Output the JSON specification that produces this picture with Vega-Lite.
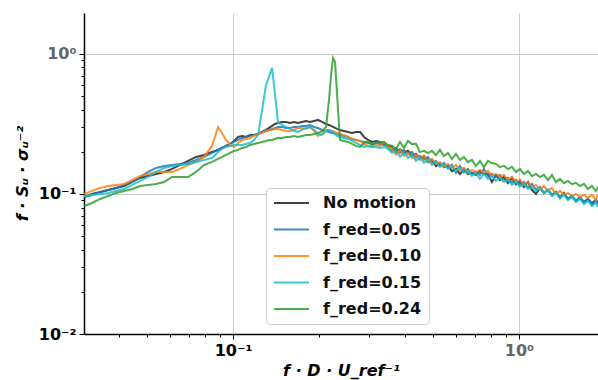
{
"$schema": "https://vega.github.io/schema/vega-lite/v6.json",
"width": 514, "height": 321,
"autosize": {"type": "none"},
"padding": {"left": 84, "top": 13, "right": 0, "bottom": 46},
"background": "white",
"config": {"view": {"stroke": null}, "font": "DejaVu Sans"},
"data": {"values": [
{"f":0.0301,"nm":0.0952,"r05":0.0952,"r10":0.1000,"r15":0.0968,"r24":0.0821},
{"f":0.0321,"nm":0.1000,"r05":0.0984,"r10":0.1051,"r15":0.0984,"r24":0.0862},
{"f":0.0343,"nm":0.1034,"r05":0.1034,"r10":0.1104,"r15":0.1000,"r24":0.0921},
{"f":0.0366,"nm":0.1068,"r05":0.1068,"r10":0.1141,"r15":0.1017,"r24":0.0968},
{"f":0.0390,"nm":0.1104,"r05":0.1104,"r10":0.1160,"r15":0.1051,"r24":0.1017},
{"f":0.0416,"nm":0.1141,"r05":0.1160,"r10":0.1179,"r15":0.1086,"r24":0.1051},
{"f":0.0444,"nm":0.1218,"r05":0.1218,"r10":0.1259,"r15":0.1160,"r24":0.1086},
{"f":0.0473,"nm":0.1301,"r05":0.1322,"r10":0.1344,"r15":0.1238,"r24":0.1141},
{"f":0.0504,"nm":0.1344,"r05":0.1436,"r10":0.1389,"r15":0.1322,"r24":0.1160},
{"f":0.0538,"nm":0.1389,"r05":0.1534,"r10":0.1436,"r15":0.1436,"r24":0.1179},
{"f":0.0574,"nm":0.1436,"r05":0.1585,"r10":0.1436,"r15":0.1534,"r24":0.1218},
{"f":0.0612,"nm":0.1509,"r05":0.1611,"r10":0.1436,"r15":0.1585,"r24":0.1322},
{"f":0.0653,"nm":0.1611,"r05":0.1638,"r10":0.1509,"r15":0.1611,"r24":0.1322},
{"f":0.0696,"nm":0.1721,"r05":0.1665,"r10":0.1611,"r15":0.1638,"r24":0.1322},
{"f":0.0742,"nm":0.1838,"r05":0.1749,"r10":0.1693,"r15":0.1693,"r24":0.1436},
{"f":0.0792,"nm":0.1899,"r05":0.1838,"r10":0.1838,"r15":0.1749,"r24":0.1611},
{"f":0.0844,"nm":0.1995,"r05":0.1963,"r10":0.2202,"r15":0.1808,"r24":0.1693},
{"f":0.0886,"nm":0.2062,"r05":0.2062,"r10":0.3010,"r15":0.1995,"r24":0.1778},
{"f":0.0915,"nm":0.2131,"r05":0.2131,"r10":0.2727,"r15":0.2096,"r24":0.1838},
{"f":0.0945,"nm":0.2202,"r05":0.2202,"r10":0.2430,"r15":0.2166,"r24":0.1899},
{"f":0.0976,"nm":0.2276,"r05":0.2276,"r10":0.2239,"r15":0.2202,"r24":0.1963},
{"f":0.1008,"nm":0.2391,"r05":0.2352,"r10":0.2166,"r15":0.2239,"r24":0.2028},
{"f":0.1041,"nm":0.2553,"r05":0.2430,"r10":0.2313,"r15":0.2239,"r24":0.2062},
{"f":0.1075,"nm":0.2596,"r05":0.2512,"r10":0.2430,"r15":0.2239,"r24":0.2131},
{"f":0.1110,"nm":0.2553,"r05":0.2553,"r10":0.2471,"r15":0.2276,"r24":0.2166},
{"f":0.1147,"nm":0.2639,"r05":0.2596,"r10":0.2512,"r15":0.2313,"r24":0.2239},
{"f":0.1184,"nm":0.2639,"r05":0.2639,"r10":0.2596,"r15":0.2430,"r24":0.2276},
{"f":0.1223,"nm":0.2683,"r05":0.2683,"r10":0.2683,"r15":0.2639,"r24":0.2313},
{"f":0.1263,"nm":0.2772,"r05":0.2772,"r10":0.2727,"r15":0.3981,"r24":0.2352},
{"f":0.1304,"nm":0.2865,"r05":0.2818,"r10":0.2818,"r15":0.6006,"r24":0.2391},
{"f":0.1336,"nm":0.2961,"r05":0.2865,"r10":0.2865,"r15":0.6851,"r24":0.2430},
{"f":0.1369,"nm":0.3060,"r05":0.2913,"r10":0.2865,"r15":0.7943,"r24":0.2430},
{"f":0.1402,"nm":0.3162,"r05":0.2961,"r10":0.2913,"r15":0.5095,"r24":0.2471},
{"f":0.1437,"nm":0.3214,"r05":0.3010,"r10":0.2913,"r15":0.3214,"r24":0.2512},
{"f":0.1484,"nm":0.3268,"r05":0.3010,"r10":0.2865,"r15":0.3111,"r24":0.2512},
{"f":0.1532,"nm":0.3268,"r05":0.2961,"r10":0.2818,"r15":0.3010,"r24":0.2553},
{"f":0.1582,"nm":0.3214,"r05":0.2961,"r10":0.2818,"r15":0.2913,"r24":0.2553},
{"f":0.1634,"nm":0.3268,"r05":0.3010,"r10":0.2865,"r15":0.2818,"r24":0.2596},
{"f":0.1688,"nm":0.3214,"r05":0.3010,"r10":0.2961,"r15":0.2772,"r24":0.2553},
{"f":0.1743,"nm":0.3268,"r05":0.3060,"r10":0.2961,"r15":0.2865,"r24":0.2596},
{"f":0.1800,"nm":0.3321,"r05":0.3060,"r10":0.2913,"r15":0.2961,"r24":0.2639},
{"f":0.1859,"nm":0.3268,"r05":0.3111,"r10":0.3010,"r15":0.3010,"r24":0.2639},
{"f":0.1919,"nm":0.3321,"r05":0.3010,"r10":0.2818,"r15":0.2865,"r24":0.2683},
{"f":0.1982,"nm":0.3378,"r05":0.2961,"r10":0.2596,"r15":0.2683,"r24":0.2727},
{"f":0.2047,"nm":0.3268,"r05":0.2865,"r10":0.2683,"r15":0.2639,"r24":0.2818},
{"f":0.2114,"nm":0.3162,"r05":0.2818,"r10":0.2865,"r15":0.2818,"r24":0.3010},
{"f":0.2166,"nm":0.3111,"r05":0.2772,"r10":0.2865,"r15":0.2865,"r24":0.4692},
{"f":0.2202,"nm":0.3060,"r05":0.2727,"r10":0.2818,"r15":0.2818,"r24":0.7079},
{"f":0.2238,"nm":0.3010,"r05":0.2727,"r10":0.2818,"r15":0.2772,"r24":0.9363},
{"f":0.2274,"nm":0.2961,"r05":0.2683,"r10":0.2772,"r15":0.2683,"r24":0.8770},
{"f":0.2311,"nm":0.2913,"r05":0.2683,"r10":0.2727,"r15":0.2596,"r24":0.5095},
{"f":0.2366,"nm":0.2865,"r05":0.2639,"r10":0.2683,"r15":0.2553,"r24":0.2430},
{"f":0.2444,"nm":0.2818,"r05":0.2596,"r10":0.2639,"r15":0.2512,"r24":0.2391},
{"f":0.2524,"nm":0.2772,"r05":0.2553,"r10":0.2553,"r15":0.2471,"r24":0.2352},
{"f":0.2607,"nm":0.2727,"r05":0.2471,"r10":0.2471,"r15":0.2391,"r24":0.2276},
{"f":0.2692,"nm":0.2772,"r05":0.2430,"r10":0.2430,"r15":0.2313,"r24":0.2202},
{"f":0.2780,"nm":0.2772,"r05":0.2391,"r10":0.2391,"r15":0.2239,"r24":0.2166},
{"f":0.2871,"nm":0.2553,"r05":0.2352,"r10":0.2276,"r15":0.2166,"r24":0.2313},
{"f":0.2965,"nm":0.2430,"r05":0.2313,"r10":0.2202,"r15":0.2202,"r24":0.2391},
{"f":0.3062,"nm":0.2352,"r05":0.2276,"r10":0.2166,"r15":0.2166,"r24":0.2239},
{"f":0.3162,"nm":0.2391,"r05":0.2313,"r10":0.2239,"r15":0.2166,"r24":0.2313},
{"f":0.3266,"nm":0.2352,"r05":0.2276,"r10":0.2202,"r15":0.2131,"r24":0.2352},
{"f":0.3373,"nm":0.2276,"r05":0.2239,"r10":0.2352,"r15":0.2166,"r24":0.2352},
{"f":0.3483,"nm":0.2202,"r05":0.2166,"r10":0.2166,"r15":0.2096,"r24":0.2239},
{"f":0.3597,"nm":0.2180,"r05":0.2033,"r10":0.2124,"r15":0.1967,"r24":0.2216},
{"f":0.3715,"nm":0.1990,"r05":0.2134,"r10":0.1904,"r15":0.2031,"r24":0.2090},
{"f":0.3836,"nm":0.2088,"r05":0.1967,"r10":0.2065,"r15":0.1842,"r24":0.2356},
{"f":0.3962,"nm":0.1957,"r05":0.2065,"r10":0.1873,"r15":0.1965,"r24":0.2136},
{"f":0.4091,"nm":0.2031,"r05":0.1925,"r10":0.1965,"r15":0.1812,"r24":0.2394},
{"f":0.4225,"nm":0.1873,"r05":0.1999,"r10":0.1812,"r15":0.1902,"r24":0.2270},
{"f":0.4363,"nm":0.1933,"r05":0.1812,"r10":0.1902,"r15":0.1725,"r24":0.2279},
{"f":0.4506,"nm":0.1774,"r05":0.1871,"r10":0.1754,"r15":0.1810,"r24":0.1990},
{"f":0.4653,"nm":0.1871,"r05":0.1754,"r10":0.1871,"r15":0.1669,"r24":0.2032},
{"f":0.4806,"nm":0.1688,"r05":0.1840,"r10":0.1697,"r15":0.1752,"r24":0.1957},
{"f":0.4963,"nm":0.1752,"r05":0.1669,"r10":0.1781,"r15":0.1615,"r24":0.2032},
{"f":0.5125,"nm":0.1581,"r05":0.1723,"r10":0.1642,"r15":0.1695,"r24":0.1894},
{"f":0.5293,"nm":0.1640,"r05":0.1589,"r10":0.1695,"r15":0.1563,"r24":0.2065},
{"f":0.5466,"nm":0.1555,"r05":0.1667,"r10":0.1563,"r15":0.1640,"r24":0.1863},
{"f":0.5645,"nm":0.1588,"r05":0.1537,"r10":0.1640,"r15":0.1512,"r24":0.1965},
{"f":0.5829,"nm":0.1456,"r05":0.1614,"r10":0.1537,"r15":0.1588,"r24":0.1774},
{"f":0.6020,"nm":0.1511,"r05":0.1416,"r10":0.1614,"r15":0.1464,"r24":0.1933},
{"f":0.6217,"nm":0.1386,"r05":0.1588,"r10":0.1464,"r15":0.1536,"r24":0.1745},
{"f":0.6420,"nm":0.1511,"r05":0.1439,"r10":0.1536,"r15":0.1416,"r24":0.1840},
{"f":0.6630,"nm":0.1386,"r05":0.1511,"r10":0.1416,"r15":0.1462,"r24":0.1688},
{"f":0.6847,"nm":0.1415,"r05":0.1393,"r10":0.1486,"r15":0.1347,"r24":0.1752},
{"f":0.7071,"nm":0.1364,"r05":0.1438,"r10":0.1432,"r15":0.1415,"r24":0.1581},
{"f":0.7302,"nm":0.1462,"r05":0.1371,"r10":0.1486,"r15":0.1282,"r24":0.1723},
{"f":0.7541,"nm":0.1386,"r05":0.1511,"r10":0.1416,"r15":0.1391,"r24":0.1555},
{"f":0.7788,"nm":0.1391,"r05":0.1347,"r10":0.1462,"r15":0.1282,"r24":0.1723},
{"f":0.8043,"nm":0.1215,"r05":0.1391,"r10":0.1347,"r15":0.1347,"r24":0.1661},
{"f":0.8306,"nm":0.1368,"r05":0.1326,"r10":0.1391,"r15":0.1242,"r24":0.1640},
{"f":0.8578,"nm":0.1256,"r05":0.1368,"r10":0.1326,"r15":0.1303,"r24":0.1555},
{"f":0.8858,"nm":0.1325,"r05":0.1242,"r10":0.1368,"r15":0.1221,"r24":0.1588},
{"f":0.9152,"nm":0.1195,"r05":0.1303,"r10":0.1262,"r15":0.1261,"r24":0.1505},
{"f":0.9452,"nm":0.1303,"r05":0.1201,"r10":0.1325,"r15":0.1162,"r24":0.1562},
{"f":0.9761,"nm":0.1175,"r05":0.1261,"r10":0.1221,"r15":0.1220,"r24":0.1432},
{"f":1.0081,"nm":0.1240,"r05":0.1162,"r10":0.1261,"r15":0.1125,"r24":0.1511},
{"f":1.0411,"nm":0.1119,"r05":0.1220,"r10":0.1162,"r15":0.1181,"r24":0.1386},
{"f":1.0752,"nm":0.1220,"r05":0.1107,"r10":0.1220,"r15":0.1088,"r24":0.1462},
{"f":1.1104,"nm":0.1066,"r05":0.1181,"r10":0.1125,"r15":0.1124,"r24":0.1340},
{"f":1.1467,"nm":0.1000,"r05":0.1071,"r10":0.1161,"r15":0.1053,"r24":0.1391},
{"f":1.1842,"nm":0.1105,"r05":0.1124,"r10":0.1071,"r15":0.1105,"r24":0.1319},
{"f":1.2230,"nm":0.1014,"r05":0.1020,"r10":0.1143,"r15":0.1014,"r24":0.1368},
{"f":1.2630,"nm":0.1070,"r05":0.1070,"r10":0.1053,"r15":0.1070,"r24":0.1256},
{"f":1.3043,"nm":0.0981,"r05":0.0986,"r10":0.1105,"r15":0.0965,"r24":0.1368},
{"f":1.3470,"nm":0.1035,"r05":0.1035,"r10":0.1003,"r15":0.1018,"r24":0.1215},
{"f":1.3911,"nm":0.0934,"r05":0.0954,"r10":0.1053,"r15":0.0934,"r24":0.1281},
{"f":1.4366,"nm":0.1018,"r05":0.1002,"r10":0.0986,"r15":0.0985,"r24":0.1195},
{"f":1.4836,"nm":0.0919,"r05":0.0923,"r10":0.1018,"r15":0.0903,"r24":0.1240},
{"f":1.5322,"nm":0.0969,"r05":0.0969,"r10":0.0970,"r15":0.0953,"r24":0.1175},
{"f":1.5823,"nm":0.0889,"r05":0.0893,"r10":0.1002,"r15":0.0874,"r24":0.1201},
{"f":1.6341,"nm":0.0938,"r05":0.0953,"r10":0.0954,"r15":0.0922,"r24":0.1138},
{"f":1.6876,"nm":0.0874,"r05":0.0879,"r10":0.0985,"r15":0.0846,"r24":0.1181},
{"f":1.7428,"nm":0.0922,"r05":0.0922,"r10":0.0939,"r15":0.0892,"r24":0.1083},
{"f":1.7999,"nm":0.0846,"r05":0.0864,"r10":0.0985,"r15":0.0818,"r24":0.1143},
{"f":1.8588,"nm":0.0908,"r05":0.0908,"r10":0.0908,"r15":0.0864,"r24":0.1048},
{"f":1.8890,"nm":0.0862,"r05":0.0850,"r10":0.0985,"r15":0.0810,"r24":0.1125}
]},
"transform": [{"fold": ["nm", "r05", "r10", "r15", "r24"], "as": ["series", "S"]}],
"mark": {"type": "line", "strokeWidth": 2, "opacity": 0.85, "clip": true},
"encoding": {
  "x": {"field": "f", "type": "quantitative",
    "scale": {"type": "log", "domain": [0.0301, 1.89], "nice": false},
    "axis": {
      "values": [0.04,0.05,0.06,0.07,0.08,0.09,0.1,0.2,0.3,0.4,0.5,0.6,0.7,0.8,0.9,1],
      "labelExpr": "datum.value == 1 ? '10⁰' : (datum.value == 0.1 ? '10⁻¹' : '')",
      "labelColor": {"condition": {"test": "datum.value == 1", "value": "#666666"}, "value": "#000000"},
      "labelFont": "DejaVu Sans", "labelFontSize": 16, "labelFontWeight": "bold", "labelPadding": 3,
      "labelFlush": false, "labelOverlap": false,
      "tickSize": {"condition": {"test": "datum.value == 1 || datum.value == 0.1", "value": 5}, "value": 3},
      "tickColor": "#000000", "tickWidth": 1,
      "domainColor": "#000000", "domainWidth": 1.5,
      "grid": true, "gridColor": "#cccccc", "gridWidth": 1,
      "gridOpacity": {"condition": {"test": "datum.value == 1 || datum.value == 0.1", "value": 1}, "value": 0},
      "title": "f · D · U_ref⁻¹",
      "titleFont": "DejaVu Sans", "titleFontSize": 16, "titleFontWeight": "bold", "titleFontStyle": "italic",
      "titleColor": "#000000", "titleX": 257, "titleY": 36, "titleBaseline": "middle", "titleAlign": "center"
    }},
  "y": {"field": "S", "type": "quantitative",
    "scale": {"type": "log", "domain": [0.01, 1.96], "nice": false},
    "axis": {
      "values": [0.01,0.02,0.03,0.04,0.05,0.06,0.07,0.08,0.09,0.1,0.2,0.3,0.4,0.5,0.6,0.7,0.8,0.9,1],
      "labelExpr": "datum.value == 1 ? '10⁰' : (datum.value == 0.1 ? '10⁻¹' : (datum.value == 0.01 ? '10⁻²' : ''))",
      "labelColor": {"condition": {"test": "datum.value == 1", "value": "#666666"}, "value": "#000000"},
      "labelFont": "DejaVu Sans", "labelFontSize": 16, "labelFontWeight": "bold", "labelPadding": 3,
      "labelFlush": false, "labelOverlap": false, "labelBaseline": "middle",
      "tickSize": {"condition": {"test": "datum.value == 1 || datum.value == 0.1 || datum.value == 0.01", "value": 5}, "value": 3},
      "tickColor": "#000000", "tickWidth": 1,
      "domainColor": "#000000", "domainWidth": 1.5,
      "grid": true, "gridColor": "#cccccc", "gridWidth": 1,
      "gridOpacity": {"condition": {"test": "datum.value == 1 || datum.value == 0.1", "value": 1}, "value": 0},
      "title": "f · Sᵤ · σᵤ⁻²",
      "titleFont": "DejaVu Sans", "titleFontSize": 16, "titleFontWeight": "bold", "titleFontStyle": "italic",
      "titleColor": "#000000", "titleX": -62, "titleY": 160, "titleAngle": -90, "titleBaseline": "middle", "titleAlign": "center"
    }},
  "color": {"field": "series", "type": "nominal",
    "scale": {"domain": ["nm", "r05", "r10", "r15", "r24"], "range": ["#222222", "#1f77b4", "#ff7f0e", "#17becf", "#2ca02c"]},
    "legend": {
      "title": null, "orient": "none", "legendX": 182, "legendY": 175,
      "labelExpr": "datum.label == 'nm' ? 'No motion' : datum.label == 'r05' ? 'f_red=0.05' : datum.label == 'r10' ? 'f_red=0.10' : datum.label == 'r15' ? 'f_red=0.15' : 'f_red=0.24'",
      "symbolType": "stroke", "symbolSize": 1225, "symbolStrokeWidth": 2, "clipHeight": 16, "rowPadding": 10.5,
      "labelFont": "DejaVu Sans", "labelFontSize": 16, "labelFontWeight": "bold", "labelColor": "#111111", "labelOffset": 13,
      "padding": 7, "fillColor": "white", "strokeColor": "#cccccc", "cornerRadius": 4
    }}
}
}
